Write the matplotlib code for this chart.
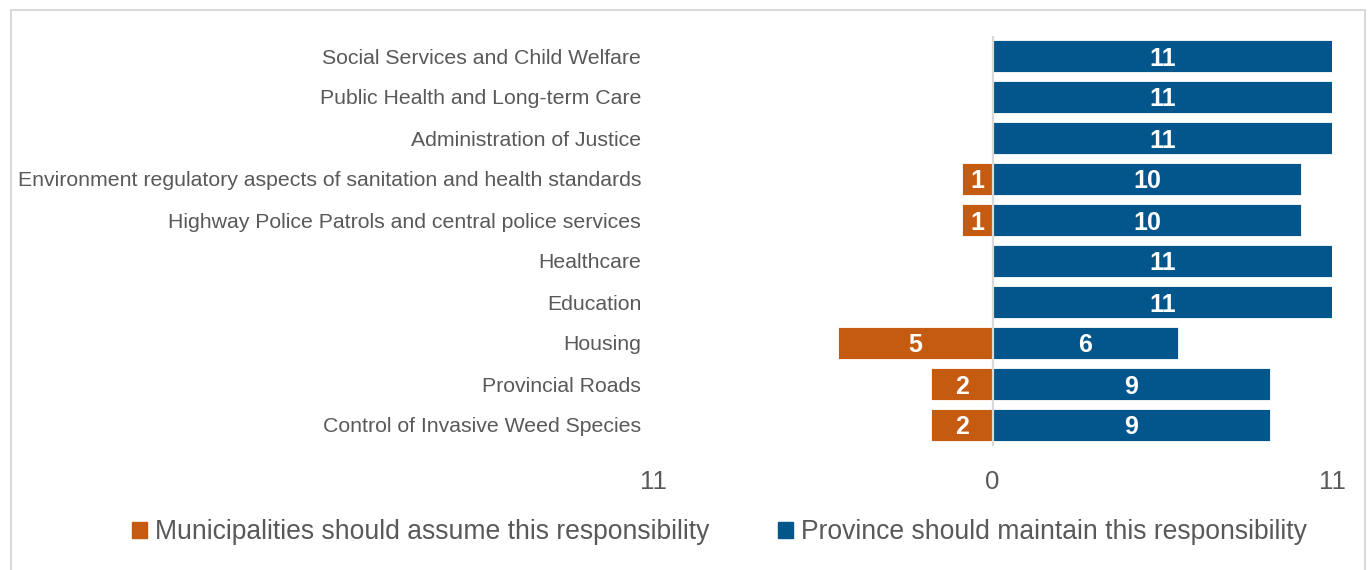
import matplotlib
matplotlib.use("Agg")
import matplotlib.pyplot as plt
from matplotlib.patches import Rectangle

plt.rcParams['font.family'] = ['Liberation Sans', 'DejaVu Sans']

categories = [
    "Social Services and Child Welfare",
    "Public Health and Long-term Care",
    "Administration of Justice",
    "Environment regulatory aspects of sanitation and health standards",
    "Highway Police Patrols and central police services",
    "Healthcare",
    "Education",
    "Housing",
    "Provincial Roads",
    "Control of Invasive Weed Species",
]
municipalities = [0, 0, 0, 1, 1, 0, 0, 5, 2, 2]
province = [11, 11, 11, 10, 10, 11, 11, 6, 9, 9]
x_ticks = [-11, 0, 11]
x_tick_labels = ["11", "0", "11"]
series_names = ["Municipalities should assume this responsibility",
                "Province should maintain this responsibility"]

ORANGE = "#C55A11"
BLUE = "#02568B"
TEXT = "#595959"
GRID = "#D9D9D9"

W, H = 1371, 570
fig = plt.figure(figsize=(W / 100, H / 100), dpi=100)
ax = fig.add_axes([653 / W, 1 - 445.5 / H, (1332 - 653) / W, (445.5 - 35.5) / H])

y = list(range(len(categories)))
neg = [-v for v in municipalities]
b1 = ax.barh(y, neg, height=0.8, color=ORANGE, edgecolor="white", linewidth=0.6,
             label=series_names[0])
b2 = ax.barh(y, province, height=0.8, color=BLUE, edgecolor="white", linewidth=0.6,
             label=series_names[1])

for bars, values in ((b1, municipalities), (b2, province)):
    for rect, v in zip(bars, values):
        if v > 0:
            ax.text(rect.get_x() + rect.get_width() / 2,
                    rect.get_y() + rect.get_height() / 2,
                    str(v), ha="center", va="center_baseline", color="white",
                    fontsize=18, fontweight="bold")

ax.axvline(0, color=GRID, linewidth=1.6, zorder=5)

ax.set_xlim(-11, 11)
ax.set_ylim(len(categories) - 0.5, -0.5)
ax.set_yticks(y)
ax.set_yticklabels(categories, fontsize=15.3, color=TEXT)
ax.set_xticks(x_ticks)
ax.set_xticklabels(x_tick_labels, fontsize=18.5, color=TEXT)
ax.tick_params(axis="y", length=0, pad=8.5)
ax.tick_params(axis="x", length=0, pad=17.5)
for s in ax.spines.values():
    s.set_visible(False)

handles = [Rectangle((0, 0), 1, 1, color=ORANGE), Rectangle((0, 0), 1, 1, color=BLUE)]
fig.legend(handles, series_names, loc="center", bbox_to_anchor=(719.5 / W, 1 - 532 / H),
           ncol=2, frameon=False, fontsize=19.1, labelcolor=TEXT,
           handlelength=0.55, handleheight=0.55, handletextpad=0.3,
           columnspacing=2.6)

fig.patches.append(Rectangle((11 / W, -0.05), (1365 - 11) / W, 1.05 - 10 / H,
                             transform=fig.transFigure, fill=False,
                             edgecolor=GRID, linewidth=1.5))

fig.savefig("out.png", dpi=100)
